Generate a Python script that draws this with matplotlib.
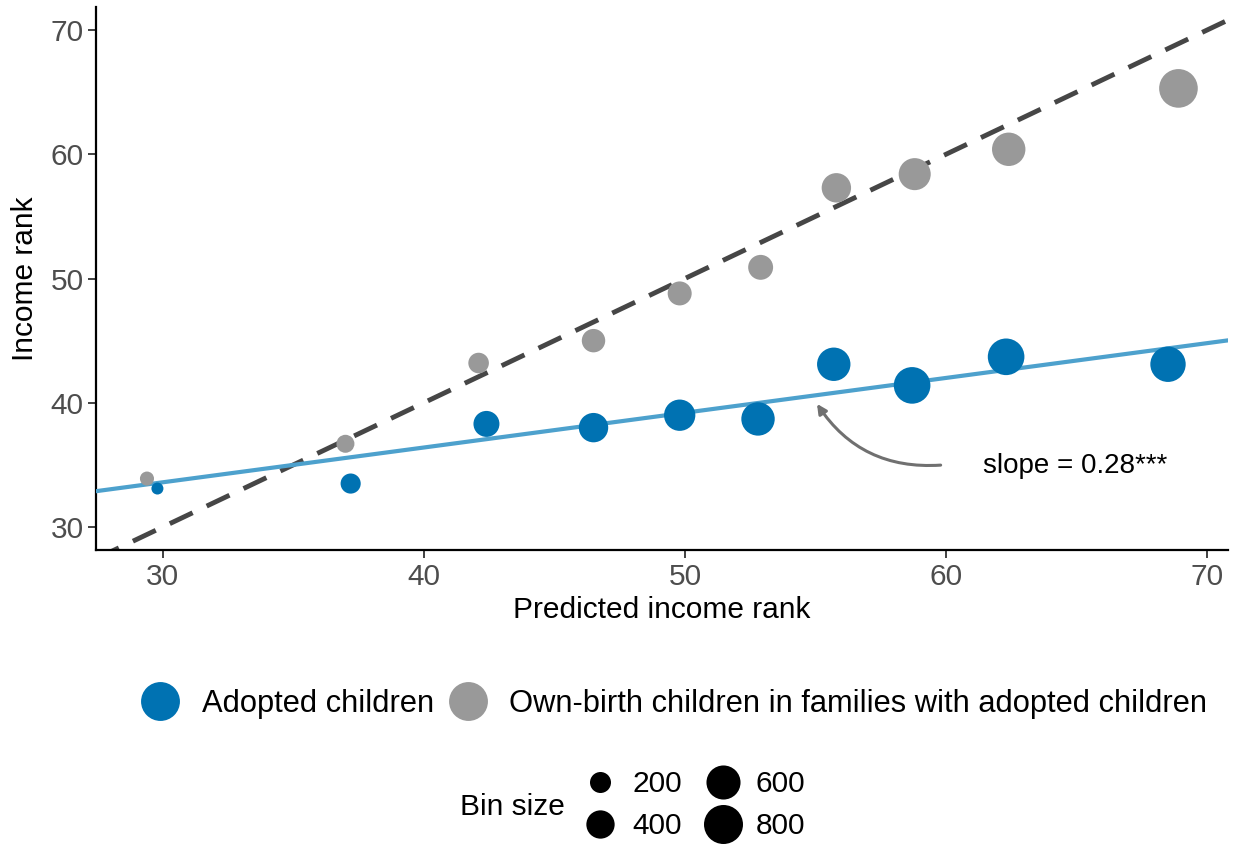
import matplotlib
matplotlib.use("Agg")
import matplotlib.pyplot as plt
from matplotlib.lines import Line2D

plt.rcParams['font.family'] = ['Liberation Sans', 'DejaVu Sans']

# binned means: predicted rank, realised rank, observations per bin
adopt_x = [29.8, 37.2, 42.4, 46.5, 49.8, 52.8, 55.7, 58.7, 62.3, 68.5]
adopt_y = [33.1, 33.5, 38.3, 38.0, 39.0, 38.7, 43.1, 41.4, 43.7, 43.1]
adopt_n = [35, 180, 330, 435, 500, 575, 575, 700, 700, 650]

own_x = [29.4, 37.0, 42.1, 46.5, 49.8, 52.9, 55.8, 58.8, 62.4, 68.9]
own_y = [33.9, 36.7, 43.2, 45.0, 48.8, 50.9, 57.3, 58.4, 60.4, 65.3]
own_n = [65, 135, 190, 260, 275, 300, 435, 525, 575, 785]

fit_intercept = 25.2
fit_slope = 0.28
bin_levels = [200, 400, 600, 800]

blue = '#0072B2'
grey = '#999999'
fitcol = '#4DA1CD'
fs = 21.5


def area(n):
    # marker area in pt^2, linear in bin size with a small floor
    return 42 + 0.933 * n


fig = plt.figure(figsize=(12.33, 8.44), dpi=100)
ax = fig.add_axes([0.0779, 0.3483, 0.9181, 0.6434])

xlo, xhi = 27.45, 70.8
ylo, yhi = 28.15, 71.85

# 45-degree reference line and fitted line for adopted children
ax.plot([xlo, xhi], [xlo, xhi], ls=(0, (5.2, 3.2)), color='#464646', lw=3.5, zorder=2)
ax.plot([xlo, xhi], [fit_intercept + fit_slope * xlo, fit_intercept + fit_slope * xhi],
        color=fitcol, lw=3.0, zorder=3)

ax.scatter(own_x, own_y, s=[area(n) for n in own_n], color=grey,
           linewidths=0, zorder=4)
ax.scatter(adopt_x, adopt_y, s=[area(n) for n in adopt_n], color=blue,
           linewidths=0, zorder=4)

ax.annotate('', xy=(55.0, 40.1), xytext=(59.9, 35.0),
            arrowprops=dict(arrowstyle='-|>', color='#707070', lw=2.2,
                            mutation_scale=14,
                            connectionstyle='arc3,rad=-0.3'), zorder=5)
ax.text(61.4, 34.9, 'slope = 0.28***', fontsize=20, ha='left', va='center',
        color='black')

ax.set_xlim(xlo, xhi)
ax.set_ylim(ylo, yhi)
ax.set_xticks([30, 40, 50, 60, 70])
ax.set_yticks([30, 40, 50, 60, 70])
ax.tick_params(labelsize=fs, colors='#333333', labelcolor='#4D4D4D',
               length=6, width=1.3, pad=3)
for side in ['top', 'right']:
    ax.spines[side].set_visible(False)
for side in ['left', 'bottom']:
    ax.spines[side].set_linewidth(1.6)
ax.set_xlabel('Predicted income rank', fontsize=fs, labelpad=4)
ax.set_ylabel('Income rank', fontsize=fs, labelpad=8)

# colour legend
group_handles = [
    Line2D([], [], ls='', marker='o', markersize=28, markerfacecolor=blue,
           markeredgewidth=0),
    Line2D([], [], ls='', marker='o', markersize=28, markerfacecolor=grey,
           markeredgewidth=0),
]
leg1 = fig.legend(group_handles,
                  ['Adopted children',
                   'Own-birth children in families with adopted children'],
                  loc='center', bbox_to_anchor=(0.547, 0.166), ncol=2,
                  frameon=False, fontsize=22.2, handlelength=1.2,
                  handletextpad=0.75, columnspacing=0.5)

# bin size legend
size_handles = [
    Line2D([], [], ls='', marker='o', markerfacecolor='black',
           markeredgewidth=0, markersize=area(n) ** 0.5)
    for n in bin_levels
]
leg2 = fig.legend(size_handles, [str(n) for n in bin_levels],
                  loc='center', bbox_to_anchor=(0.5625, 0.046), ncol=2,
                  frameon=False, fontsize=fs, handlelength=1.2,
                  handletextpad=0.5, columnspacing=0.75, labelspacing=0.48)
fig.text(0.416, 0.044, 'Bin size', fontsize=fs, ha='center', va='center')

fig.savefig('out.png', dpi=100)
